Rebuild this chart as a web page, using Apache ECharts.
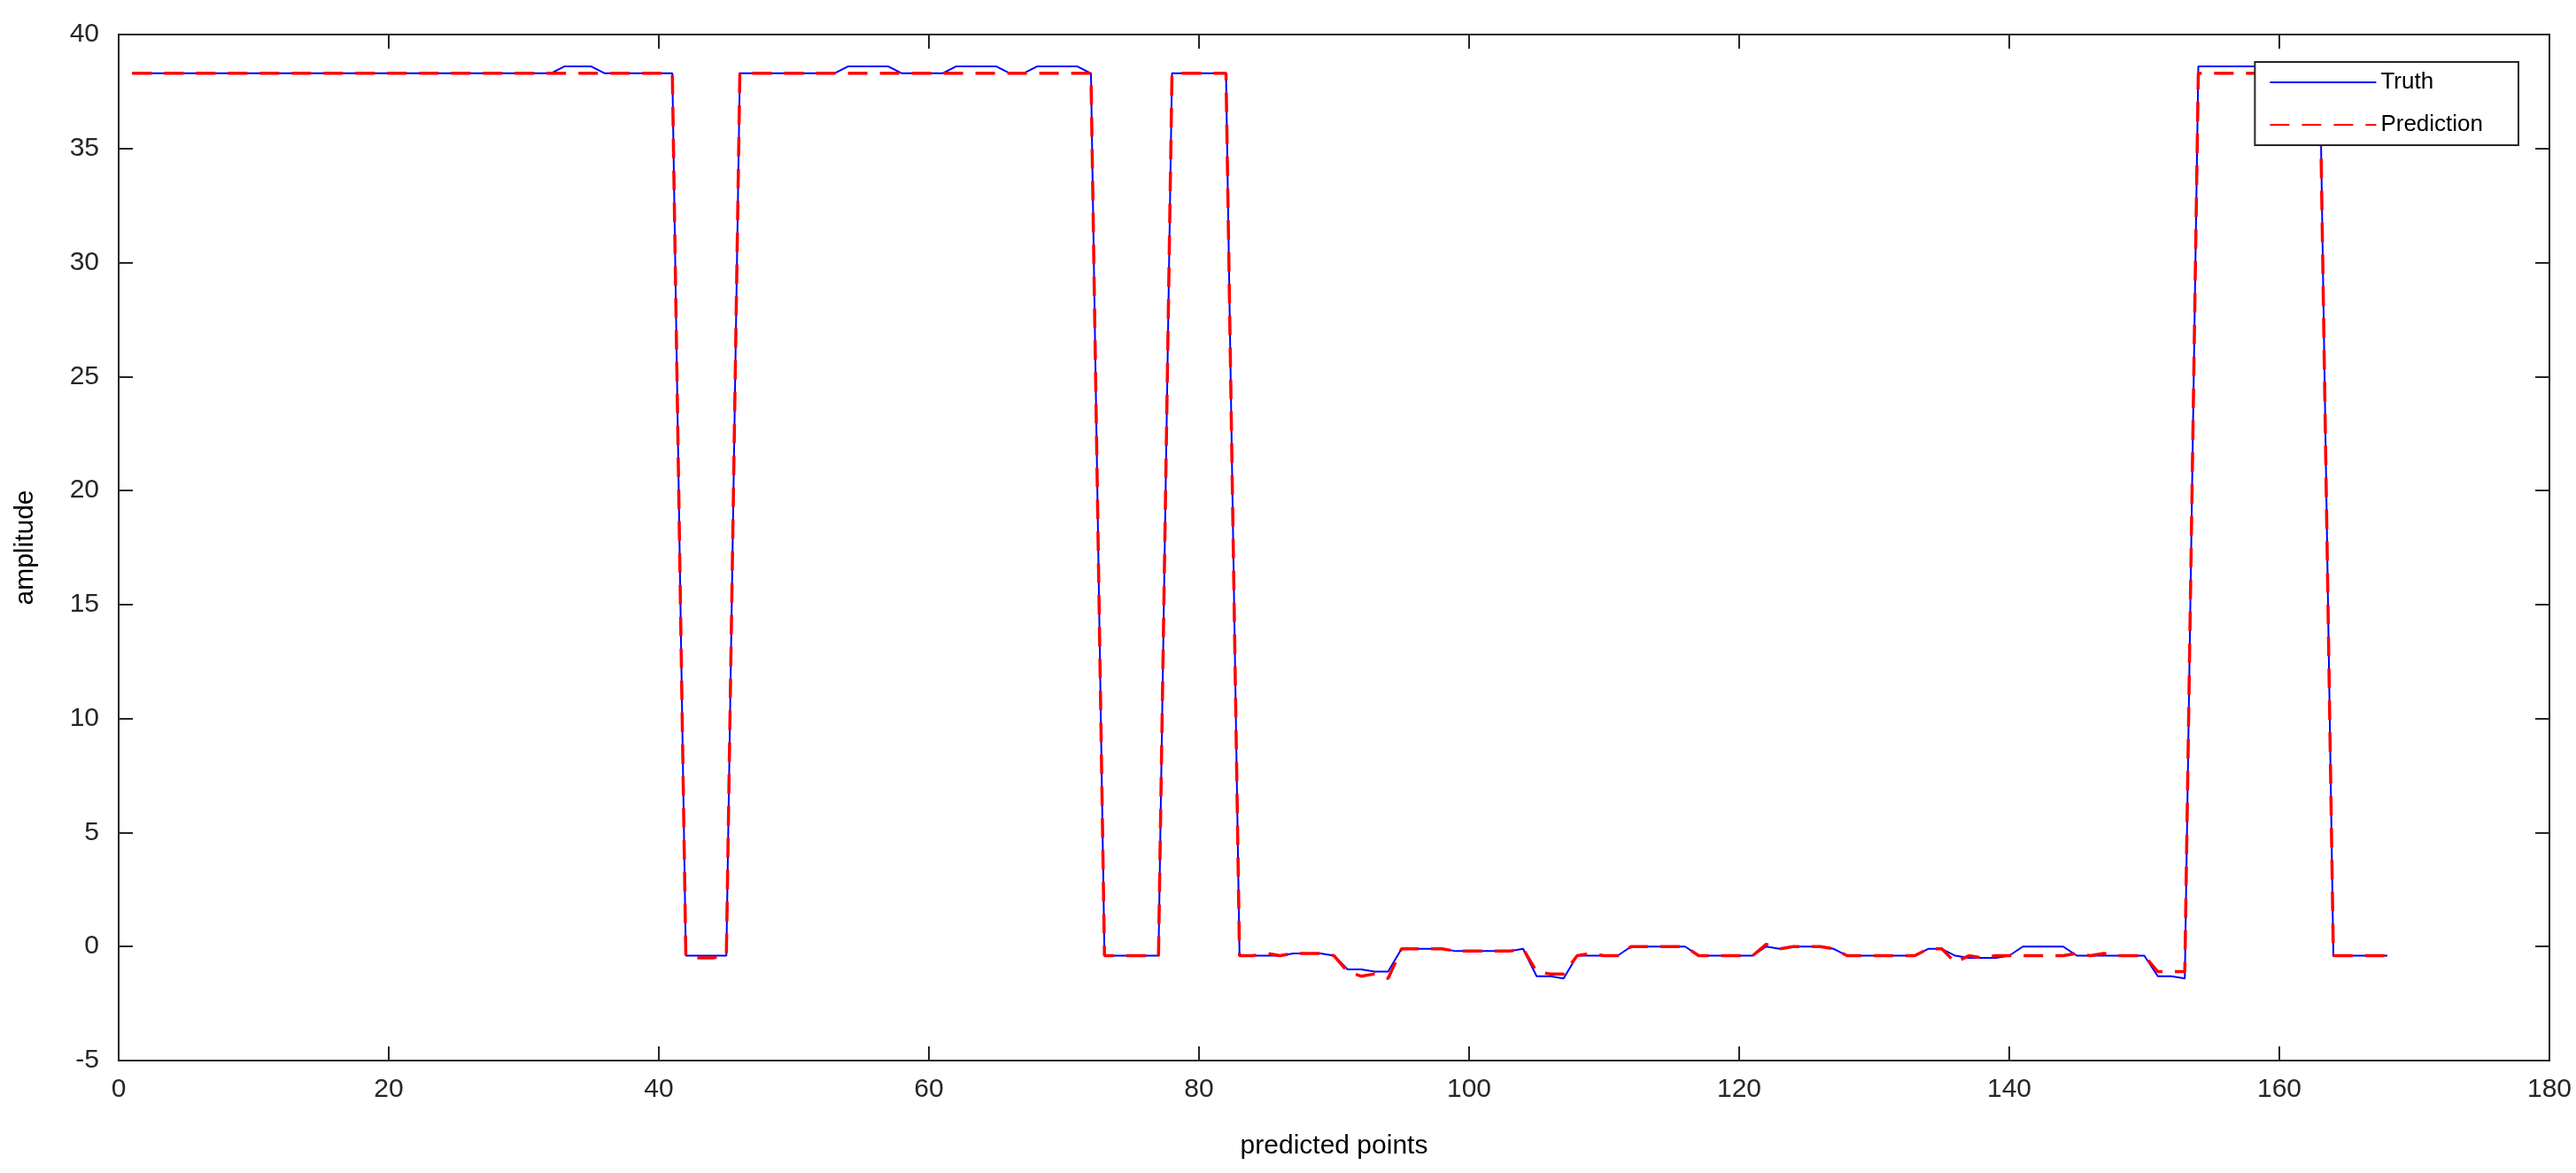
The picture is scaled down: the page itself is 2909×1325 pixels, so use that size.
<!DOCTYPE html>
<html>
<head>
<meta charset="utf-8">
<script src="https://cdn.jsdelivr.net/npm/echarts@6/dist/echarts.min.js"></script>
<style>html,body{margin:0;padding:0;background:#fff}#main{width:2909px;height:1325px}</style>
</head>
<body>
<div id="main"></div>
<script>
// predicted points 1..168
var truth = [
  38.3,38.3,38.3,38.3,38.3,38.3,38.3,38.3,38.3,38.3,
  38.3,38.3,38.3,38.3,38.3,38.3,38.3,38.3,38.3,38.3,
  38.3,38.3,38.3,38.3,38.3,38.3,38.3,38.3,38.3,38.3,
  38.3,38.3,38.6,38.6,38.6,38.3,38.3,38.3,38.3,38.3,
  38.3,-0.4,-0.4,-0.4,-0.4,38.3,38.3,38.3,38.3,38.3,
  38.3,38.3,38.3,38.6,38.6,38.6,38.6,38.3,38.3,38.3,
  38.3,38.6,38.6,38.6,38.6,38.3,38.3,38.6,38.6,38.6,
  38.6,38.3,-0.4,-0.4,-0.4,-0.4,-0.4,38.3,38.3,38.3,
  38.3,38.3,-0.4,-0.4,-0.4,-0.4,-0.3,-0.3,-0.3,-0.4,
  -1.0,-1.0,-1.1,-1.1,-0.1,-0.1,-0.1,-0.1,-0.2,-0.2,
  -0.2,-0.2,-0.2,-0.1,-1.3,-1.3,-1.4,-0.4,-0.4,-0.4,
  -0.4,0.0,0.0,0.0,0.0,0.0,-0.4,-0.4,-0.4,-0.4,
  -0.4,0.0,-0.1,0.0,0.0,0.0,-0.1,-0.4,-0.4,-0.4,
  -0.4,-0.4,-0.4,-0.1,-0.1,-0.4,-0.5,-0.5,-0.5,-0.4,
  0.0,0.0,0.0,0.0,-0.4,-0.4,-0.4,-0.4,-0.4,-0.4,
  -1.3,-1.3,-1.4,38.6,38.6,38.6,38.6,38.6,38.6,38.6,
  38.6,38.6,38.6,-0.4,-0.4,-0.4,-0.4,-0.4
];
var prediction = [
  38.3,38.3,38.3,38.3,38.3,38.3,38.3,38.3,38.3,38.3,
  38.3,38.3,38.3,38.3,38.3,38.3,38.3,38.3,38.3,38.3,
  38.3,38.3,38.3,38.3,38.3,38.3,38.3,38.3,38.3,38.3,
  38.3,38.3,38.3,38.3,38.3,38.3,38.3,38.3,38.3,38.3,
  38.3,-0.4,-0.5,-0.5,-0.4,38.3,38.3,38.3,38.3,38.3,
  38.3,38.3,38.3,38.3,38.3,38.3,38.3,38.3,38.3,38.3,
  38.3,38.3,38.3,38.3,38.3,38.3,38.3,38.3,38.3,38.3,
  38.3,38.3,-0.4,-0.4,-0.4,-0.4,-0.4,38.3,38.3,38.3,
  38.3,38.3,-0.4,-0.4,-0.3,-0.4,-0.3,-0.3,-0.3,-0.4,
  -1.1,-1.3,-1.2,-1.4,-0.1,-0.1,-0.1,-0.1,-0.2,-0.2,
  -0.2,-0.2,-0.2,-0.1,-1.1,-1.2,-1.2,-0.4,-0.3,-0.4,
  -0.4,0.0,0.0,0.0,0.0,0.0,-0.4,-0.4,-0.4,-0.4,
  -0.4,0.1,-0.1,0.0,0.0,0.0,-0.1,-0.4,-0.4,-0.4,
  -0.4,-0.4,-0.4,-0.1,-0.1,-0.7,-0.4,-0.5,-0.4,-0.4,
  -0.4,-0.4,-0.4,-0.4,-0.3,-0.4,-0.3,-0.4,-0.4,-0.4,
  -1.1,-1.1,-1.1,38.3,38.3,38.3,38.3,38.3,38.3,38.3,
  38.3,38.3,38.3,-0.4,-0.4,-0.4,-0.4,-0.4
];
var seriesNames = ['Truth', 'Prediction'];

function pairs(arr) {
  return arr.map(function (v, i) { return [i + 1, v]; });
}

var font = 'Arial, "Liberation Sans", sans-serif';
var axisLine = { show: true, onZero: false, lineStyle: { color: '#262626', width: 2 } };
var tick = { show: true, inside: true, length: 16, lineStyle: { color: '#262626', width: 2 } };

var option = {
  backgroundColor: '#fff',
  animation: false,
  grid: { left: 134, right: 30, top: 39, bottom: 127, show: true, borderColor: '#262626', borderWidth: 2, backgroundColor: 'transparent' },
  legend: {
    right: 65, top: 70,
    orient: 'vertical',
    backgroundColor: '#fff',
    borderColor: '#262626', borderWidth: 2,
    padding: [10, 40, 10, 16],
    itemWidth: 120, itemHeight: 14, itemGap: 22,
    itemStyle: { opacity: 0 },
    textStyle: { fontFamily: font, fontSize: 26, color: '#000' },
    data: seriesNames
  },
  xAxis: [{
    type: 'value', min: 0, max: 180, interval: 20,
    name: 'predicted points', nameLocation: 'middle', nameGap: 82,
    nameTextStyle: { fontFamily: font, fontSize: 30, color: '#000' },
    axisLine: axisLine, axisTick: tick,
    axisLabel: { fontFamily: font, fontSize: 30, color: '#262626', margin: 18 },
    splitLine: { show: false }
  }, {
    type: 'value', min: 0, max: 180, interval: 20, position: 'top',
    axisLine: axisLine, axisTick: tick, axisLabel: { show: false }, splitLine: { show: false }
  }],
  yAxis: [{
    type: 'value', min: -5, max: 40, interval: 5,
    name: 'amplitude', nameLocation: 'middle', nameGap: 90,
    nameTextStyle: { fontFamily: font, fontSize: 30, color: '#000' },
    axisLine: axisLine, axisTick: tick,
    axisLabel: { fontFamily: font, fontSize: 30, color: '#262626', margin: 22 },
    splitLine: { show: false }
  }, {
    type: 'value', min: -5, max: 40, interval: 5, position: 'right',
    axisLine: axisLine, axisTick: tick, axisLabel: { show: false }, splitLine: { show: false }
  }],
  series: [{
    name: seriesNames[0], type: 'line', data: pairs(truth),
    showSymbol: false, symbol: 'none', color: '#0000ff',
    lineStyle: { color: '#0000ff', width: 2 }
  }, {
    name: seriesNames[1], type: 'line', data: pairs(prediction),
    showSymbol: false, symbol: 'none', color: '#ff0000',
    lineStyle: { color: '#ff0000', width: 3.5, type: [22, 14] }
  }, {
    name: 'mirror', type: 'line', data: [], xAxisIndex: 1, yAxisIndex: 1,
    symbol: 'none', silent: true
  }]
};

var myChart = echarts.init(document.getElementById('main'));
myChart.setOption(option);
</script>
</body>
</html>
